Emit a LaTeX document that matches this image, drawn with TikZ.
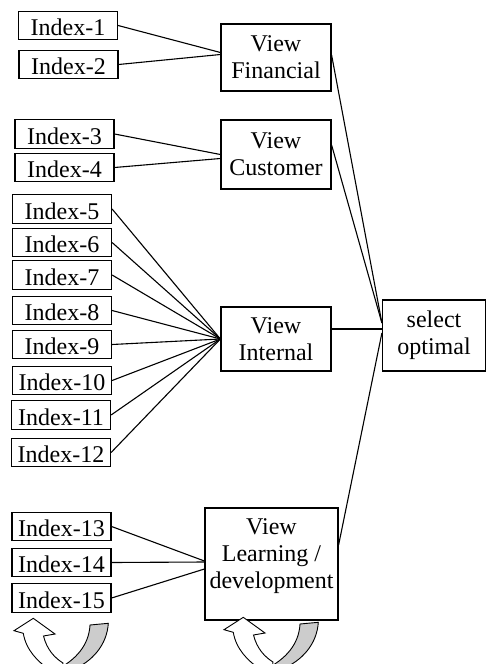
\documentclass[tikz,border=0pt]{standalone}
\usepackage{fontspec}
\setmainfont{Liberation Serif}
\usepackage{tikz}
\usetikzlibrary{positioning}
\definecolor{bandGray}{RGB}{204,204,204}

\newcommand{\turnarrow}[1]{%
  \begin{scope}[shift={#1}]
    \filldraw[fill=bandGray, line width=0.9pt] (90,625) -- (108.3,623.3) .. controls (107,645) and (92,662) .. (72,670) -- (56,670) .. controls (76,660) and (89,645) .. (90,625) -- cycle;
    \filldraw[fill=white, line width=0.9pt] (33.3,618.3) -- (55,634) -- (43.5,636) .. controls (47,650) and (55,658) .. (63,663) -- (62,670) -- (50,670) .. controls (38,662) and (26,650) .. (23.3,633.3) -- (14,630.7) -- cycle;
  \end{scope}}

\begin{document}
\begin{tikzpicture}[x=1pt, y=-1pt,
    font=\fontsize{24}{27}\selectfont,
    idx/.style={draw, line width=1.2pt, minimum width=99pt, minimum height=28.5pt, inner sep=0pt, text height=20pt, text depth=0pt},
    view/.style={draw, line width=1.2pt, inner sep=0pt, align=center},
    link/.style={line width=1.1pt}]
        \clip (0,0) rectangle (487,664);
        \node[idx] (i1) at (68,25.5) {Index-1};
        \node[idx] (i2) at (68.5,64.5) {Index-2};
        \node[idx] (i3) at (64.5,134) {Index-3};
        \node[idx] (i4) at (64.5,167.5) {Index-4};
        \node[idx] (i5) at (62,209) {Index-5};
        \node[idx] (i6) at (62,242.5) {Index-6};
        \node[idx] (i7) at (62,275) {Index-7};
        \node[idx] (i8) at (62,310.5) {Index-8};
        \node[idx] (i9) at (62,344.5) {Index-9};
        \node[idx] (i10) at (62,380.5) {Index-10};
        \node[idx] (i11) at (61,415) {Index-11};
        \node[idx] (i12) at (61,452.5) {Index-12};
        \node[idx] (i13) at (61.5,526.5) {Index-13};
        \node[idx] (i14) at (61.5,562.5) {Index-14};
        \node[idx] (i15) at (61.5,598) {Index-15};
        \node[view, minimum width=110pt, minimum height=67pt] (fin) at (276,57.5) {View\\Financial};
        \node[view, minimum width=110pt, minimum height=69pt] (cus) at (276,154.5) {View\\Customer};
        \node[view, minimum width=110pt, minimum height=64pt] (int) at (276,339) {View\\Internal};
        \node[view, minimum width=133pt, minimum height=112pt] (lrn) at (271.5,564) {View\\Learning /\\development\\[-6pt]\mbox{}};
        \node[view, minimum width=103pt, minimum height=71pt] (sel) at (434,335.5) {select\\optimal};
        \draw[link] (i1.east) -- ([yshift=5pt]fin.west);
        \draw[link] (i2.east) -- ([yshift=3pt]fin.west);
        \draw[link] (i3.east) -- (cus.west);
        \draw[link] (i4.east) -- ([yshift=-4pt]cus.west);
        \draw[link] (i5.east) -- (int.west);
        \draw[link] (i6.east) -- (int.west);
        \draw[link] (i7.east) -- (int.west);
        \draw[link] (i8.east) -- (int.west);
        \draw[link] (i9.east) -- (int.west);
        \draw[link] (i10.east) -- (int.west);
        \draw[link] (i11.east) -- (int.west);
        \draw[link] (i12.east) -- (int.west);
        \draw[link] (i13.east) -- ([yshift=3pt]lrn.west);
        \draw[link] (i14.east) -- ([yshift=2pt]lrn.west);
        \draw[link] (i15.east) -- ([yshift=-5pt]lrn.west);
        \draw[link] ([yshift=2.5pt]fin.east) -- ([yshift=12.5pt]sel.west);
        \draw[link] ([yshift=9.5pt]cus.east) -- ([yshift=12.5pt]sel.west);
        \draw[link] ([yshift=10pt]int.east) -- ([yshift=6.5pt]sel.west);
        \draw[link] ([yshift=19pt]lrn.east) -- ([yshift=2.5pt]sel.west);
        \turnarrow{(0,0)}
        \turnarrow{(210,-1)}
    \end{tikzpicture}
\end{document}
